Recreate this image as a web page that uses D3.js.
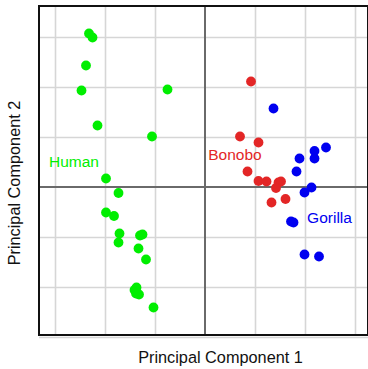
<!DOCTYPE html>
<html>
<head>
<meta charset="utf-8">
<script src="https://cdn.jsdelivr.net/npm/d3@7/dist/d3.min.js"></script>
<style>
  html, body { margin: 0; padding: 0; background: #fff; }
  svg { display: block; font-family: "Liberation Sans", Arial, Helvetica, sans-serif; }
</style>
</head>
<body>
<svg id="chart" width="368" height="369"></svg>
<script>
// PCA scores: [PC1, PC2] for each specimen
const human = [
  [-2.32, 3.07], [-2.25, 2.99], [-2.38, 2.43], [-2.47, 1.93], [-0.75, 1.95],
  [-2.15, 1.23], [-1.06, 1.01], [-1.98, 0.17], [-1.73, -0.12], [-1.98, -0.51],
  [-1.82, -0.58], [-1.71, -0.93], [-1.73, -1.11], [-1.30, -0.97], [-1.25, -0.95],
  [-1.33, -1.23], [-1.18, -1.45], [-1.37, -2.01], [-1.41, -2.06], [-1.38, -2.13],
  [-1.32, -2.15], [-1.03, -2.41]
];
const bonobo = [
  [0.92, 2.11], [0.70, 1.01], [1.07, 0.89], [0.85, 0.31], [1.07, 0.12],
  [1.23, 0.11], [1.47, 0.09], [1.52, 0.11], [1.42, -0.02], [1.33, -0.31],
  [1.61, -0.24]
];
const gorilla = [
  [1.37, 1.57], [2.42, 0.79], [2.19, 0.72], [2.19, 0.57], [1.89, 0.57],
  [1.83, 0.31], [2.13, -0.01], [1.99, -0.11], [1.72, -0.69], [1.77, -0.71],
  [1.99, -1.35], [2.28, -1.39]
];
const groupNames = ["Human", "Bonobo", "Gorilla"];
const groupColors = ["#00ee00", "#e32626", "#0000f0"];
// where each group's name sits, in score units
const labelAnchors = [[-2.62, 0.51], [0.60, 0.66], [2.49, -0.61]];
const gridTicks = [-3, -2, -1, 0, 1, 2, 3];

const svg = d3.select("#chart");
const plot = { left: 39, top: 6, right: 368, bottom: 335 };

const x = d3.scaleLinear().domain([-3.32, 3.26]).range([plot.left, plot.right]);
const y = d3.scaleLinear().domain([-2.96, 3.62]).range([plot.bottom, plot.top]);

// light grid
const grid = svg.append("g");
grid.append("g")
  .attr("transform", `translate(0,${plot.bottom})`)
  .call(d3.axisBottom(x).tickValues(gridTicks.filter(d => d !== 0))
        .tickSize(-(plot.bottom - plot.top)).tickFormat(""))
  .call(g => g.select(".domain").remove())
  .call(g => g.selectAll("line").attr("stroke", "#d6d6d6").attr("stroke-width", 1.6));
grid.append("g")
  .attr("transform", `translate(${plot.left},0)`)
  .call(d3.axisLeft(y).tickValues(gridTicks.filter(d => d !== 0))
        .tickSize(-(plot.right - plot.left)).tickFormat(""))
  .call(g => g.select(".domain").remove())
  .call(g => g.selectAll("line").attr("stroke", "#d6d6d6").attr("stroke-width", 1.6));

// zero lines
svg.append("line")
  .attr("x1", x(0)).attr("x2", x(0)).attr("y1", plot.top).attr("y2", plot.bottom)
  .attr("stroke", "#6a6a6a").attr("stroke-width", 2);
svg.append("line")
  .attr("x1", plot.left).attr("x2", plot.right).attr("y1", y(0)).attr("y2", y(0))
  .attr("stroke", "#6a6a6a").attr("stroke-width", 2);

// frame
svg.append("rect")
  .attr("x", plot.left).attr("y", plot.top)
  .attr("width", plot.right - plot.left).attr("height", plot.bottom - plot.top)
  .attr("fill", "none").attr("stroke", "#111").attr("stroke-width", 2);

// points
[human, bonobo, gorilla].forEach((pts, i) => {
  svg.append("g").selectAll("circle").data(pts).join("circle")
    .attr("cx", d => x(d[0])).attr("cy", d => y(d[1])).attr("r", 4.9)
    .attr("fill", groupColors[i]);
});

// group names
svg.append("g").selectAll("text").data(groupNames).join("text")
  .attr("x", (d, i) => x(labelAnchors[i][0]))
  .attr("y", (d, i) => y(labelAnchors[i][1]))
  .attr("text-anchor", "middle").attr("dominant-baseline", "central")
  .attr("font-size", 15.5)
  .attr("fill", (d, i) => groupColors[i])
  .text(d => d);

// axis titles
svg.append("text")
  .attr("x", (plot.left + 368) / 2 + 17).attr("y", 363)
  .attr("text-anchor", "middle").attr("font-size", 16.3).attr("fill", "#111")
  .text("Principal Component 1");
svg.append("text")
  .attr("transform", `translate(20,${183}) rotate(-90)`)
  .attr("text-anchor", "middle").attr("font-size", 16.3).attr("fill", "#111")
  .text("Principal Component 2");
</script>
</body>
</html>
